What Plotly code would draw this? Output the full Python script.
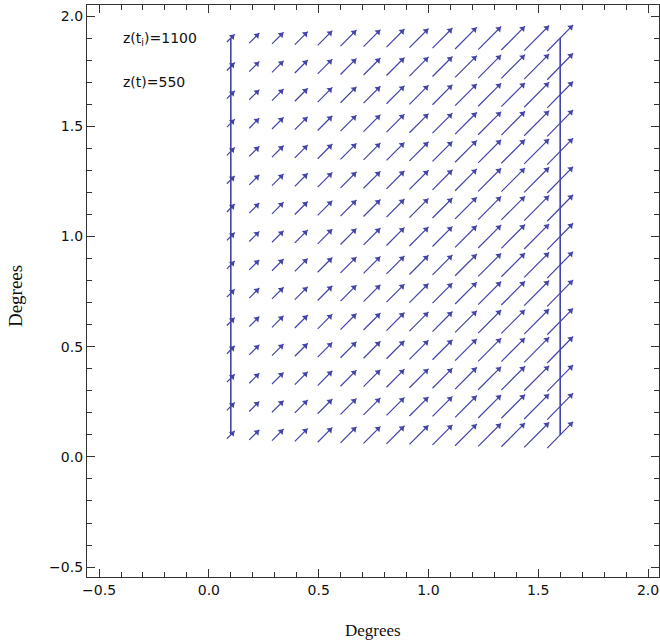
import numpy as np
import plotly.graph_objects as go

# Grid of arrow positions (15 x 15)
x_grid = [0.1, 0.207, 0.314, 0.421, 0.529, 0.636, 0.743, 0.85, 0.957, 1.064, 1.171, 1.279, 1.386, 1.493, 1.6]
y_grid = [0.1, 0.229, 0.357, 0.486, 0.614, 0.743, 0.871, 1.0, 1.129, 1.257, 1.386, 1.514, 1.643, 1.771, 1.9]
# Vector components per column (data units)
u_col = [0.036, 0.046, 0.053, 0.059, 0.067, 0.073, 0.077, 0.082, 0.087, 0.091, 0.099, 0.105, 0.108, 0.114, 0.118]
v_col = [0.036, 0.046, 0.053, 0.059, 0.067, 0.073, 0.077, 0.082, 0.087, 0.091, 0.099, 0.105, 0.108, 0.114, 0.120]
# Boundary lines
line_x = [0.1, 1.6]
line_y0 = [0.1, 0.1]
line_y1 = [1.9, 1.9]

color = "#4343a8"

sx, sy, hx, hy = [], [], [], []
for i, x in enumerate(x_grid):
    u, v = u_col[i], v_col[i]
    for y in y_grid:
        sx += [x - u / 2, x + u / 2, None]
        sy += [y - v / 2, y + v / 2, None]
        hx.append(x + u / 2 - 0.011)
        hy.append(y + v / 2 - 0.011)

fig = go.Figure()
fig.add_trace(go.Scatter(x=sx, y=sy, mode="lines", line=dict(color=color, width=1.2),
                         hoverinfo="skip", showlegend=False))
fig.add_trace(go.Scatter(x=hx, y=hy, mode="markers",
                         marker=dict(symbol="triangle-up", size=6, angle=45, color=color,
                                     line=dict(width=0)),
                         hoverinfo="skip", showlegend=False))
for i in range(len(line_x)):
    fig.add_trace(go.Scatter(x=[line_x[i], line_x[i]], y=[line_y0[i], line_y1[i]], mode="lines",
                             line=dict(color=color, width=1.6), hoverinfo="skip", showlegend=False))

fig.add_annotation(x=-0.4, y=1.895, xref="x", yref="y", xanchor="left", yanchor="middle",
                   text="z(t<sub>i</sub>)=1100", showarrow=False,
                   font=dict(family="DejaVu Sans", size=14, color="#111"))
fig.add_annotation(x=-0.4, y=1.70, xref="x", yref="y", xanchor="left", yanchor="middle",
                   text="z(t)=550", showarrow=False,
                   font=dict(family="DejaVu Sans", size=14, color="#111"))

# Axis titles
fig.add_annotation(x=0.5, y=-0.0927, xref="paper", yref="paper", xanchor="center", yanchor="middle",
                   text="Degrees", showarrow=False,
                   font=dict(family="Liberation Serif", size=17, color="#111"))
fig.add_annotation(x=-0.126, y=0.491, xref="paper", yref="paper", xanchor="center", yanchor="middle",
                   text="Degrees", showarrow=False, textangle=-90,
                   font=dict(family="Liberation Serif", size=19, color="#111"))

axis_common = dict(
    showgrid=False, zeroline=False, showline=True, linecolor="#333", linewidth=1.3,
    mirror="allticks", ticks="inside", ticklen=8, tickwidth=1.2, tickcolor="#333",
    dtick=0.5, tickformat=".1f", automargin=False,
    minor=dict(ticks="inside", ticklen=5, tickwidth=1, tickcolor="#333", dtick=0.1),
    tickfont=dict(family="DejaVu Sans", size=14, color="#111"),
)
fig.update_xaxes(range=[-0.555, 2.05], tick0=0, **axis_common)
fig.update_yaxes(range=[-0.545, 2.05], tick0=0, **axis_common)

fig.update_layout(width=660, height=642, margin=dict(l=87, r=1, t=5, b=65),
                  plot_bgcolor="white", paper_bgcolor="white")
fig.write_html("out.html", config={"displayModeBar": False},
               post_script="document.body.style.margin='0';document.body.style.padding='0';")
